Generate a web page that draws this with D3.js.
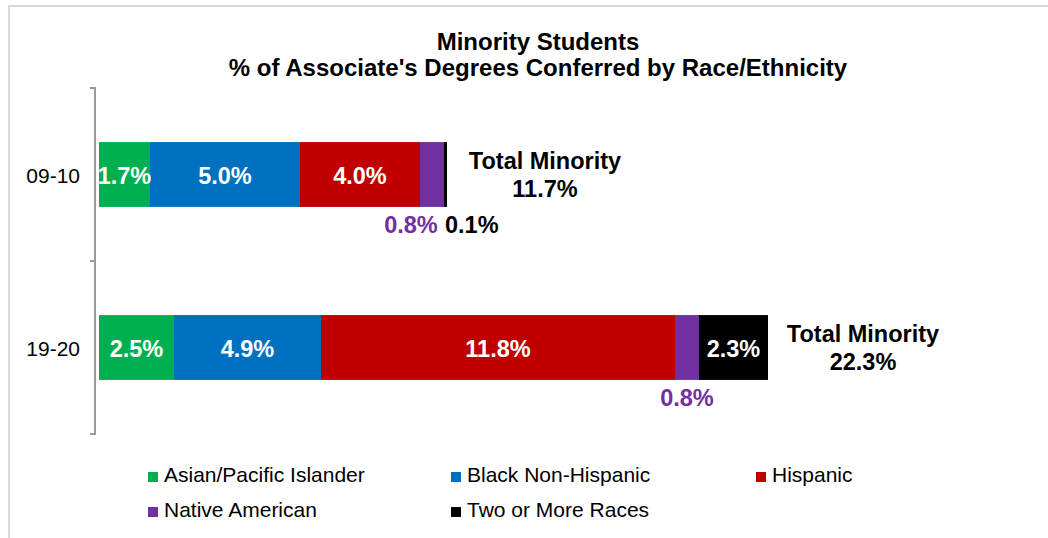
<!DOCTYPE html>
<html><head><meta charset="utf-8">
<script src="https://cdn.jsdelivr.net/npm/d3@7"></script>
<style>body{margin:0;background:#fff;} svg{display:block;font-family:"Liberation Sans",Arial,sans-serif;}</style>
</head><body>
<script>
const categories = ["09-10", "19-20"];
const seriesNames = ["Asian/Pacific Islander", "Black Non-Hispanic", "Hispanic", "Native American", "Two or More Races"];
const asian = [1.7, 2.5];
const black = [5.0, 4.9];
const hispanic = [4.0, 11.8];
const native = [0.8, 0.8];
const twoOrMore = [0.1, 2.3];
const totals = [11.7, 22.3];
const colors = ["#00b050", "#0070c0", "#c00000", "#7030a0", "#000000"];

const W = 1048, H = 538;
const svg = d3.select("body").append("svg").attr("width", W).attr("height", H);
svg.append("rect").attr("x", 9).attr("y", 6).attr("width", W).attr("height", H)
  .attr("fill", "#fff").attr("stroke", "#d9d9d9").attr("stroke-width", 2);

svg.append("text").attr("x", 538).attr("y", 50).attr("text-anchor", "middle")
  .attr("font-size", 24).attr("font-weight", "bold").text("Minority Students");
svg.append("text").attr("x", 538).attr("y", 76).attr("text-anchor", "middle")
  .attr("font-size", 24).attr("font-weight", "bold").text("% of Associate's Degrees Conferred by Race/Ethnicity");

const values = [asian, black, hispanic, native, twoOrMore];
const rows = categories.map((c, i) => {
  const r = {cat: c};
  seriesNames.forEach((s, j) => r[s] = values[j][i]);
  return r;
});
const stack = d3.stack().keys(seriesNames)(rows);

const x = d3.scaleLinear().domain([0, 22.3]).range([99, 768]);
const y = d3.scaleBand().domain(categories).range([88, 434]).paddingInner(0.625).paddingOuter(0.3125);

const axis = d3.axisLeft(y).tickSize(0).tickPadding(15);
const ag = svg.append("g").attr("transform", "translate(95,0)").call(axis);
ag.select(".domain").attr("stroke", "#999").attr("stroke-width", 2).attr("d", "M-5,88H0V434H-5");
ag.selectAll("text").attr("font-size", 21).attr("fill", "#000").attr("dy", null)
  .attr("y", 8.5).attr("font-family", "'Liberation Sans',Arial,sans-serif");
svg.append("line").attr("x1", 90).attr("x2", 95).attr("y1", 261).attr("y2", 261).attr("stroke", "#999").attr("stroke-width", 2);

stack.forEach((layer, j) => {
  svg.append("g").selectAll("rect").data(layer).join("rect")
    .attr("x", d => x(d[0])).attr("width", d => x(d[1]) - x(d[0]))
    .attr("y", d => y(d.data.cat)).attr("height", y.bandwidth())
    .attr("fill", colors[j]);
});

const fmt = v => v.toFixed(1) + "%";
stack.forEach((layer, j) => {
  layer.forEach((d, i) => {
    const v = d[1] - d[0];
    const cy = y(d.data.cat) + y.bandwidth() / 2 + 9;
    const below = y(d.data.cat) + y.bandwidth() + 26;
    if (j === 3) {
      svg.append("text").attr("x", (x(d[0]) + x(d[1])) / 2 - (i === 0 ? 21 : 0)).attr("y", below)
        .attr("text-anchor", "middle").attr("font-size", 23.5).attr("font-weight", "bold").attr("fill", "#7030a0").text(fmt(v));
    } else if (j === 4 && i === 0) {
      svg.append("text").attr("x", x(d[1]) - 2).attr("y", below)
        .attr("text-anchor", "start").attr("font-size", 23.5).attr("font-weight", "bold").attr("fill", "#000").text(fmt(v));
    } else {
      svg.append("text").attr("x", (x(d[0]) + x(d[1])) / 2).attr("y", cy)
        .attr("text-anchor", "middle").attr("font-size", 23.5).attr("font-weight", "bold").attr("fill", "#fff").text(fmt(v));
    }
  });
});

categories.forEach((c, i) => {
  const cx = x(totals[i]) + 95;
  const top = y(c) + 27;
  svg.append("text").attr("x", cx).attr("y", top).attr("text-anchor", "middle")
    .attr("font-size", 23.5).attr("font-weight", "bold").text("Total Minority");
  svg.append("text").attr("x", cx).attr("y", top + 28).attr("text-anchor", "middle")
    .attr("font-size", 23.5).attr("font-weight", "bold").text(fmt(totals[i]));
});

const legendPos = [[148, 482], [451, 482], [756, 482], [148, 517], [451, 517]];
seriesNames.forEach((s, j) => {
  const [lx, ly] = legendPos[j];
  svg.append("rect").attr("x", lx).attr("y", ly - 10).attr("width", 10).attr("height", 10).attr("fill", colors[j]);
  svg.append("text").attr("x", lx + 16).attr("y", ly).attr("font-size", 21).attr("fill", "#000").text(s);
});
</script>
</body></html>
